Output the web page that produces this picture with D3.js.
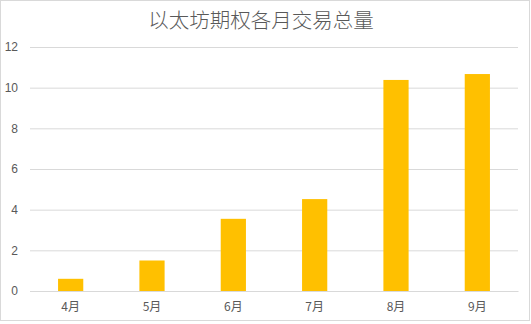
<!DOCTYPE html>
<html><head><meta charset="utf-8">
<script src="https://cdn.jsdelivr.net/npm/d3@7"></script>
<style>body{margin:0;background:#fff;}svg{display:block;}</style>
</head><body>
<script>
const title = "以太坊期权各月交易总量";
const months = ["4月","5月","6月","7月","8月","9月"];
const volumes = [0.6, 1.5, 3.55, 4.52, 10.38, 10.67];
const yTicks = [0,2,4,6,8,10,12];

const W = 531, H = 324;
const m = {left:30, right:13, top:47, bottom:33};
const svg = d3.select("body").append("svg").attr("width",W).attr("height",H);
svg.append("rect").attr("x",0.5).attr("y",0.5).attr("width",529).attr("height",320)
  .attr("fill","#fff").attr("stroke","#d9d9d9");

const x = d3.scaleBand().domain(months).range([m.left, W-m.right]).paddingInner(0.69).paddingOuter(0.345);
const y = d3.scaleLinear().domain([0,12]).range([H-m.bottom, m.top]);

const font = "'Noto Sans CJK SC','Noto Sans',sans-serif";
svg.append("text").attr("x",261).attr("y",27.5).attr("text-anchor","middle")
  .attr("font-family",font).attr("font-size",20.5).attr("font-weight",300).attr("fill","#595959").text(title);

const gy = svg.append("g").attr("transform",`translate(${m.left},0)`)
  .call(d3.axisLeft(y).tickValues(yTicks).tickSize(-(W-m.left-m.right)).tickPadding(10).tickFormat(d3.format("d")));
gy.select(".domain").remove();
gy.selectAll(".tick line").attr("stroke","#d9d9d9");
gy.selectAll(".tick text").attr("font-family","'Liberation Sans',Arial,sans-serif").attr("font-size",12).attr("fill","#595959").attr("x",-12);

svg.append("g").selectAll("rect").data(months).join("rect")
  .attr("x",d=>x(d)).attr("width",x.bandwidth())
  .attr("y",(d,i)=>y(volumes[i])).attr("height",(d,i)=>y(0)-y(volumes[i]))
  .attr("fill","#FFC000");

const gx = svg.append("g").attr("transform",`translate(0,${y(0)})`)
  .call(d3.axisBottom(x).tickSize(0).tickPadding(11));
gx.select(".domain").attr("stroke","#d9d9d9");
gx.selectAll(".tick text").attr("font-family",font).attr("font-size",12).attr("fill","#595959");
</script>
</body></html>
